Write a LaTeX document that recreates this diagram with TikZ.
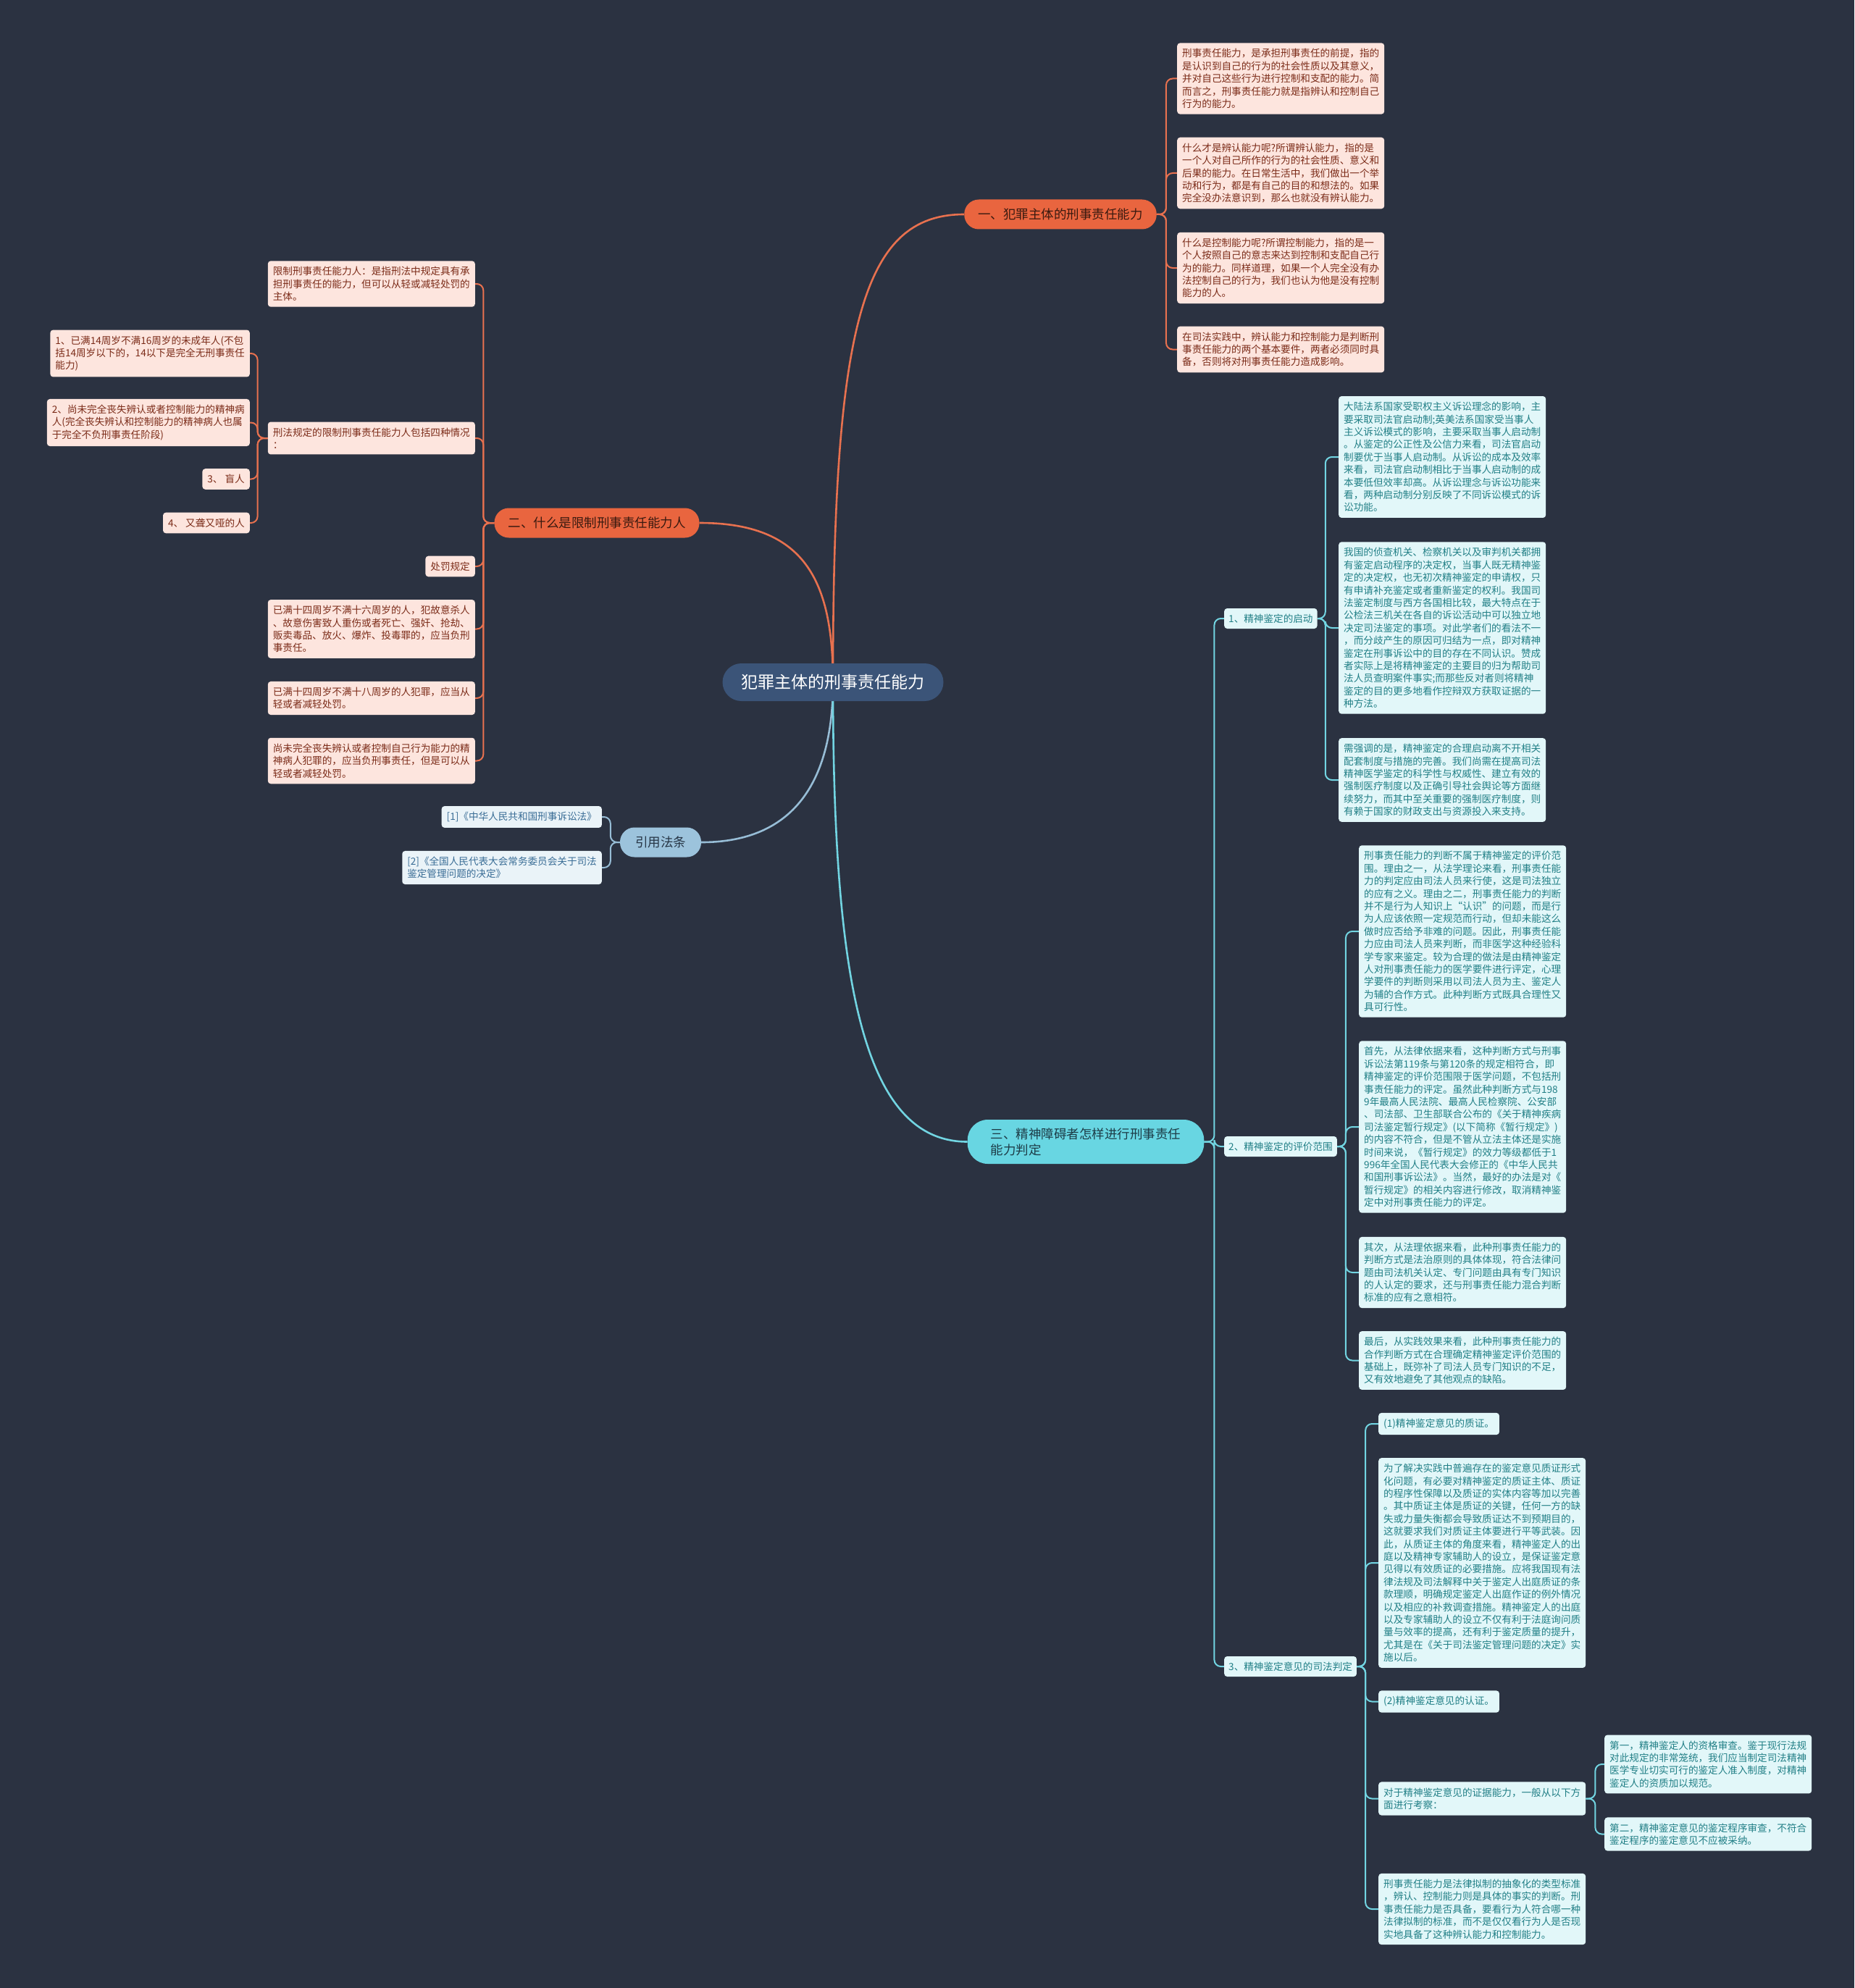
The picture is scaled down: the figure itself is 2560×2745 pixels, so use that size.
\documentclass[tikz,border=0pt]{standalone}
\usepackage{fontspec}
\setmainfont{Noto Sans CJK SC}
\definecolor{bgc}{HTML}{2B3241}
\definecolor{centerfill}{HTML}{3B5478}
\definecolor{orangeF}{HTML}{E9653F}
\definecolor{orangeL}{HTML}{E8714F}
\definecolor{orangeT}{HTML}{3A1A10}
\definecolor{pinkF}{HTML}{FDE5DE}
\definecolor{pinkT}{HTML}{7B2B18}
\definecolor{blueF}{HTML}{9CC3DC}
\definecolor{blueL}{HTML}{97BDD6}
\definecolor{blueT}{HTML}{263545}
\definecolor{citF}{HTML}{EAF3F8}
\definecolor{citT}{HTML}{3A6D96}
\definecolor{cyanF}{HTML}{68D6E2}
\definecolor{cyanL}{HTML}{72D5E2}
\definecolor{cyanT}{HTML}{1D3C47}
\definecolor{tealF}{HTML}{E2F7F9}
\definecolor{tealT}{HTML}{217F86}
\newcommand\leaffont{\fontsize{13.6}{17.4}\selectfont}
\newcommand\branchfont{\fontsize{17.5}{22}\selectfont}
\pgfdeclarelayer{bg}
\pgfsetlayers{bg,main}
\begin{document}
\begin{tikzpicture}[x=1pt,y=-1pt,
  centerbox/.style={fill=centerfill,text=white,font=\fontsize{23}{28}\selectfont,rounded corners=26pt,minimum height=52pt,inner xsep=26pt},
  brO/.style={fill=orangeF,text=orangeT,font=\branchfont,rounded corners=20pt,minimum height=41pt,inner xsep=19pt},
  brB/.style={fill=blueF,text=blueT,font=\branchfont,rounded corners=20pt,minimum height=41pt,inner xsep=21pt},
  brC/.style={fill=cyanF,text=cyanT,font=\branchfont,rounded corners=28pt,minimum height=61pt,inner xsep=32pt,align=left},
  leafP/.style={fill=pinkF,text=pinkT,font=\leaffont,rounded corners=4pt,align=left,inner xsep=7pt,inner ysep=8pt},
  leafB/.style={fill=citF,text=citT,font=\leaffont,rounded corners=4pt,align=left,inner xsep=7pt,inner ysep=8pt},
  leafT/.style={fill=tealF,text=tealT,font=\leaffont,rounded corners=4pt,align=left,inner xsep=7pt,inner ysep=8pt},
  subT/.style={fill=tealF,text=tealT,font=\leaffont,rounded corners=4pt,inner xsep=6pt,minimum height=28pt},
  mainln/.style={line width=2.6pt},
  conn/.style={line width=2pt,rounded corners=9pt}
]
\begin{pgfonlayer}{bg}
\fill[bgc] (0,0) rectangle (2560,2745);
\end{pgfonlayer}
\useasboundingbox (0,0) rectangle (2560,2745);

% center and branches
\node[centerbox] (c) at (1150,942) {犯罪主体的刑事责任能力};
\node[brO] (b1) at (1464,296) {一、犯罪主体的刑事责任能力};
\node[brO] (b2) at (824,722) {二、什么是限制刑事责任能力人};
\node[brB] (b3) at (912,1163) {引用法条};
\node[brC] (b4) at (1499,1576.5) {三、精神障碍者怎样进行刑事责任\\能力判定};

% branch 1 leaves
\node[leafP,anchor=west] (l1a) at (1625,108.5) {刑事责任能力，是承担刑事责任的前提，指的\\是认识到自己的行为的社会性质以及其意义，\\并对自己这些行为进行控制和支配的能力。简\\而言之，刑事责任能力就是指辨认和控制自己\\行为的能力。};
\node[leafP,anchor=west] (l1b) at (1625,239) {什么才是辨认能力呢?所谓辨认能力，指的是\\一个人对自己所作的行为的社会性质、意义和\\后果的能力。在日常生活中，我们做出一个举\\动和行为，都是有自己的目的和想法的。如果\\完全没办法意识到，那么也就没有辨认能力。};
\node[leafP,anchor=west] (l1c) at (1625,370) {什么是控制能力呢?所谓控制能力，指的是一\\个人按照自己的意志来达到控制和支配自己行\\为的能力。同样道理，如果一个人完全没有办\\法控制自己的行为，我们也认为他是没有控制\\能力的人。};
\node[leafP,anchor=west] (l1d) at (1625,482.5) {在司法实践中，辨认能力和控制能力是判断刑\\事责任能力的两个基本要件，两者必须同时具\\备，否则将对刑事责任能力造成影响。};

% branch 2 leaves
\node[leafP,anchor=east] (l2a) at (656,392) {限制刑事责任能力人：是指刑法中规定具有承\\担刑事责任的能力，但可以从轻或减轻处罚的\\主体。};
\node[leafP,anchor=east] (l2b) at (656,605) {刑法规定的限制刑事责任能力人包括四种情况\\：};
\node[leafP,anchor=east] (l2c) at (656,782) {处罚规定};
\node[leafP,anchor=east] (l2d) at (656,868.5) {已满十四周岁不满十六周岁的人，犯故意杀人\\、故意伤害致人重伤或者死亡、强奸、抢劫、\\贩卖毒品、放火、爆炸、投毒罪的，应当负刑\\事责任。};
\node[leafP,anchor=east] (l2e) at (656,964) {已满十四周岁不满十八周岁的人犯罪，应当从\\轻或者减轻处罚。};
\node[leafP,anchor=east] (l2f) at (656,1050.5) {尚未完全丧失辨认或者控制自己行为能力的精\\神病人犯罪的，应当负刑事责任，但是可以从\\轻或者减轻处罚。};

\node[leafP,anchor=east] (k1) at (345,488) {1、已满14周岁不满16周岁的未成年人(不包\\括14周岁以下的，14以下是完全无刑事责任\\能力)};
\node[leafP,anchor=east] (k2) at (345,583.5) {2、尚未完全丧失辨认或者控制能力的精神病\\人(完全丧失辨认和控制能力的精神病人也属\\于完全不负刑事责任阶段)};
\node[leafP,anchor=east] (k3) at (345,661.5) {3、 盲人};
\node[leafP,anchor=east] (k4) at (345,722) {4、 又聋又哑的人};

% citations
\node[leafB,anchor=east] (r1) at (831,1128) {[1]《中华人民共和国刑事诉讼法》};
\node[leafB,anchor=east] (r2) at (831,1198) {[2]《全国人民代表大会常务委员会关于司法\\鉴定管理问题的决定》};

% branch 4 subs
\node[subT,anchor=west] (s1) at (1690,854) {1、精神鉴定的启动};
\node[subT,anchor=west] (s2) at (1690,1583) {2、精神鉴定的评价范围};
\node[subT,anchor=west] (s3) at (1690,2301) {3、精神鉴定意见的司法判定};

\node[leafT,anchor=west] (s1a) at (1848,631) {大陆法系国家受职权主义诉讼理念的影响，主\\要采取司法官启动制;英美法系国家受当事人\\主义诉讼模式的影响，主要采取当事人启动制\\。从鉴定的公正性及公信力来看，司法官启动\\制要优于当事人启动制。从诉讼的成本及效率\\来看，司法官启动制相比于当事人启动制的成\\本要低但效率却高。从诉讼理念与诉讼功能来\\看，两种启动制分别反映了不同诉讼模式的诉\\讼功能。};
\node[leafT,anchor=west] (s1b) at (1848,867) {我国的侦查机关、检察机关以及审判机关都拥\\有鉴定启动程序的决定权，当事人既无精神鉴\\定的决定权，也无初次精神鉴定的申请权，只\\有申请补充鉴定或者重新鉴定的权利。我国司\\法鉴定制度与西方各国相比较，最大特点在于\\公检法三机关在各自的诉讼活动中可以独立地\\决定司法鉴定的事项。对此学者们的看法不一\\，而分歧产生的原因可归结为一点，即对精神\\鉴定在刑事诉讼中的目的存在不同认识。赞成\\者实际上是将精神鉴定的主要目的归为帮助司\\法人员查明案件事实;而那些反对者则将精神\\鉴定的目的更多地看作控辩双方获取证据的一\\种方法。};
\node[leafT,anchor=west] (s1c) at (1848,1077) {需强调的是，精神鉴定的合理启动离不开相关\\配套制度与措施的完善。我们尚需在提高司法\\精神医学鉴定的科学性与权威性、建立有效的\\强制医疗制度以及正确引导社会舆论等方面继\\续努力，而其中至关重要的强制医疗制度，则\\有赖于国家的财政支出与资源投入来支持。};

\node[leafT,anchor=west] (s2a) at (1876,1286) {刑事责任能力的判断不属于精神鉴定的评价范\\围。理由之一，从法学理论来看，刑事责任能\\力的判定应由司法人员来行使，这是司法独立\\的应有之义。理由之二，刑事责任能力的判断\\并不是行为人知识上“认识”的问题，而是行\\为人应该依照一定规范而行动，但却未能这么\\做时应否给予非难的问题。因此，刑事责任能\\力应由司法人员来判断，而非医学这种经验科\\学专家来鉴定。较为合理的做法是由精神鉴定\\人对刑事责任能力的医学要件进行评定，心理\\学要件的判断则采用以司法人员为主、鉴定人\\为辅的合作方式。此种判断方式既具合理性又\\具可行性。};
\node[leafT,anchor=west] (s2b) at (1876,1556) {首先，从法律依据来看，这种判断方式与刑事\\诉讼法第119条与第120条的规定相符合，即\\精神鉴定的评价范围限于医学问题，不包括刑\\事责任能力的评定。虽然此种判断方式与198\\9年最高人民法院、最高人民检察院、公安部\\、司法部、卫生部联合公布的《关于精神疾病\\司法鉴定暂行规定》(以下简称《暂行规定》)\\的内容不符合，但是不管从立法主体还是实施\\时间来说，《暂行规定》的效力等级都低于1\\996年全国人民代表大会修正的《中华人民共\\和国刑事诉讼法》。当然，最好的办法是对《\\暂行规定》的相关内容进行修改，取消精神鉴\\定中对刑事责任能力的评定。};
\node[leafT,anchor=west] (s2c) at (1876,1757) {其次，从法理依据来看，此种刑事责任能力的\\判断方式是法治原则的具体体现，符合法律问\\题由司法机关认定、专门问题由具有专门知识\\的人认定的要求，还与刑事责任能力混合判断\\标准的应有之意相符。};
\node[leafT,anchor=west] (s2d) at (1876,1878.5) {最后，从实践效果来看，此种刑事责任能力的\\合作判断方式在合理确定精神鉴定评价范围的\\基础上，既弥补了司法人员专门知识的不足，\\又有效地避免了其他观点的缺陷。};

\node[leafT,anchor=west] (s3a) at (1903,1966) {(1)精神鉴定意见的质证。};
\node[leafT,anchor=west] (s3b) at (1903,2158) {为了解决实践中普遍存在的鉴定意见质证形式\\化问题，有必要对精神鉴定的质证主体、质证\\的程序性保障以及质证的实体内容等加以完善\\。其中质证主体是质证的关键，任何一方的缺\\失或力量失衡都会导致质证达不到预期目的，\\这就要求我们对质证主体要进行平等武装。因\\此，从质证主体的角度来看，精神鉴定人的出\\庭以及精神专家辅助人的设立，是保证鉴定意\\见得以有效质证的必要措施。应将我国现有法\\律法规及司法解释中关于鉴定人出庭质证的条\\款理顺，明确规定鉴定人出庭作证的例外情况\\以及相应的补救调查措施。精神鉴定人的出庭\\以及专家辅助人的设立不仅有利于法庭询问质\\量与效率的提高，还有利于鉴定质量的提升，\\尤其是在《关于司法鉴定管理问题的决定》实\\施以后。};
\node[leafT,anchor=west] (s3c) at (1903,2349.5) {(2)精神鉴定意见的认证。};
\node[leafT,anchor=west] (s3d) at (1903,2483.5) {对于精神鉴定意见的证据能力，一般从以下方\\面进行考察：};
\node[leafT,anchor=west] (s3e) at (1903,2636) {刑事责任能力是法律拟制的抽象化的类型标准\\，辨认、控制能力则是具体的事实的判断。刑\\事责任能力是否具备，要看行为人符合哪一种\\法律拟制的标准，而不是仅仅看行为人是否现\\实地具备了这种辨认能力和控制能力。};

\node[leafT,anchor=west] (t1) at (2215,2436) {第一，精神鉴定人的资格审查。鉴于现行法规\\对此规定的非常笼统，我们应当制定司法精神\\医学专业切实可行的鉴定人准入制度，对精神\\鉴定人的资质加以规范。};
\node[leafT,anchor=west] (t2) at (2215,2532.5) {第二，精神鉴定意见的鉴定程序审查，不符合\\鉴定程序的鉴定意见不应被采纳。};

% connectors
\begin{pgfonlayer}{bg}
\draw[mainln,orangeL] (c.center) .. controls (1150,450) and (1190,296) .. (b1.west);
\draw[mainln,orangeL] (c.center) .. controls (1150,800) and (1110,722) .. (b2.east);
\draw[mainln,blueL] (c.center) .. controls (1150,1060) and (1110,1163) .. (b3.east);
\draw[mainln,cyanL] (c.center) .. controls (1150,1350) and (1190,1576.5) .. (b4.west);
\foreach \n in {l1a,l1b,l1c,l1d} \draw[conn,orangeL] (b1.east) -- ++(13,0) |- (\n.west);
\foreach \n in {l2a,l2b,l2c,l2d,l2e,l2f} \draw[conn,orangeL] (b2.west) -- ++(-15,0) |- (\n.east);
\foreach \n in {k1,k2,k3,k4} \draw[conn,orangeL] (l2b.west) -- ++(-14,0) |- (\n.east);
\foreach \n in {r1,r2} \draw[conn,blueL] (b3.west) -- ++(-13,0) |- (\n.east);
\foreach \n in {s1,s2,s3} \draw[conn,cyanL] (b4.east) -- ++(14,0) |- (\n.west);
\foreach \n in {s1a,s1b,s1c} \draw[conn,cyanL] (s1.east) -- ++(11,0) |- (\n.west);
\foreach \n in {s2a,s2b,s2c,s2d} \draw[conn,cyanL] (s2.east) -- ++(12,0) |- (\n.west);
\foreach \n in {s3a,s3b,s3c,s3d,s3e} \draw[conn,cyanL] (s3.east) -- ++(12,0) |- (\n.west);
\foreach \n in {t1,t2} \draw[conn,cyanL] (s3d.east) -- ++(13,0) |- (\n.west);
\end{pgfonlayer}
\end{tikzpicture}
\end{document}
